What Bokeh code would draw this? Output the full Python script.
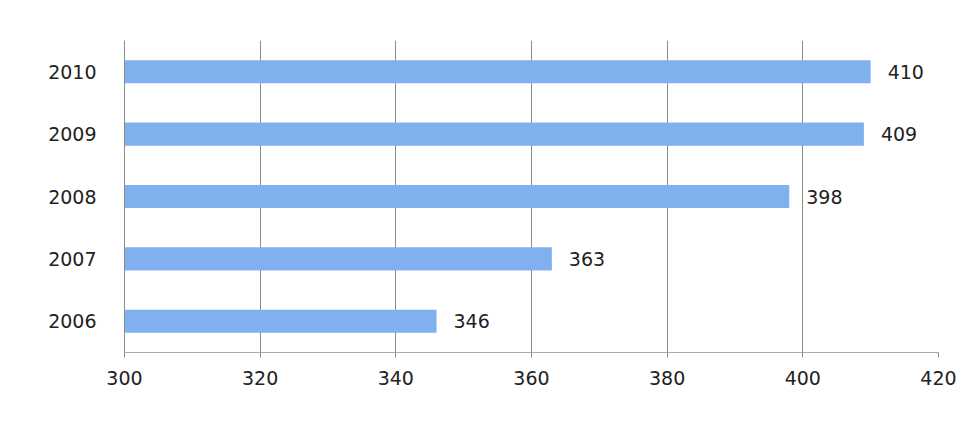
from bokeh.plotting import figure
from bokeh.models import ColumnDataSource, FactorRange, Range1d, FixedTicker, LabelSet
from bokeh.core.properties import value
from bokeh.embed import file_html
from bokeh.resources import INLINE

years = ["2006", "2007", "2008", "2009", "2010"]
values = [346, 363, 398, 409, 410]
x_ticks = [300, 320, 340, 360, 380, 400, 420]

src = ColumnDataSource(dict(year=years, value=values, label=[str(v) for v in values]))

p = figure(width=960, height=405, output_backend="svg", toolbar_location=None,
           y_range=FactorRange(*years), x_range=Range1d(300, 420),
           min_border_left=124, min_border_right=22, min_border_top=40, min_border_bottom=53)

p.hbar(y="year", left=300, right="value", height=0.37, source=src,
       fill_color="#80b0ee", line_color=None)

FONT = "DejaVu Sans"
FS = "19px"
labels = LabelSet(x="value", y="year", text="label", source=src, x_offset=17,
                  text_baseline="middle", text_font=value(FONT), text_font_size=value(FS),
                  text_color="#222222")
p.add_layout(labels)

p.outline_line_color = None
p.ygrid.grid_line_color = None
p.xgrid.grid_line_color = "#8a8a8a"
p.xgrid.grid_line_width = 1
p.xaxis.ticker = FixedTicker(ticks=x_ticks)
p.xaxis.axis_line_color = "#aaaaaa"
p.xaxis.major_tick_line_color = "#8a8a8a"
p.xaxis.major_tick_out = 5
p.xaxis.major_tick_in = 0
p.xaxis.minor_tick_line_color = None
p.xaxis.major_label_standoff = 13
p.xaxis.major_label_text_font = FONT
p.xaxis.major_label_text_font_size = FS
p.xaxis.major_label_text_color = "#222222"

p.yaxis.axis_line_color = "#8a8a8a"
p.yaxis.major_tick_line_color = None
p.yaxis.minor_tick_line_color = None
p.yaxis.major_label_standoff = 22
p.yaxis.major_label_text_font = FONT
p.yaxis.major_label_text_font_size = FS
p.yaxis.major_label_text_color = "#222222"

open("out.html", "w").write(file_html(p, INLINE))
